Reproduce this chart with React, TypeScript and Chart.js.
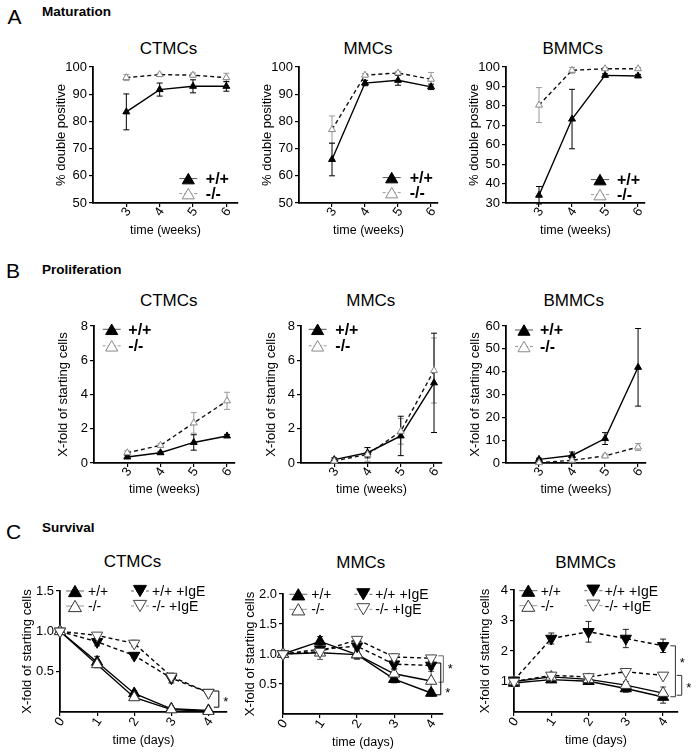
import React, { useEffect, useRef } from 'react';
import { Chart, registerables } from 'chart.js';

Chart.register(...registerables);

const FONT = '"Liberation Sans", Arial, Helvetica, sans-serif';
Chart.defaults.font.family = FONT;

// ---------- categories / ticks ----------
const weeks = [3, 4, 5, 6];
const days = [0, 1, 2, 3, 4];
const yTicksMat = [50, 60, 70, 80, 90, 100];
const yTicksMatBmmc = [30, 40, 50, 60, 70, 80, 90, 100];
const yTicksPro = [0, 1, 2, 3, 4, 5, 6, 7, 8];
const yTicksProBmmc = [0, 10, 20, 30, 40, 50, 60];
const yTicksSurCtmc = [0.5, 1.0, 1.5];
const yTicksSurMmc = [0.5, 1.0, 1.5, 2.0];
const yTicksSurBmmc = [1, 2, 3, 4];

const LBL_WT = '+/+';
const LBL_KO = '-/-';
const LBL_WT_IGE = '+/+ +IgE';
const LBL_KO_IGE = '-/- +IgE';

// ---------- A: Maturation (% double positive) ----------
const matCtmcWT = [83.5, 91.7, 92.9, 92.9];
const matCtmcWTErr = [6.6, 2.4, 2.4, 1.8];
const matCtmcKO = [96.1, 97.2, 97.0, 96.1];
const matCtmcKOErr = [1.1, 0.5, 0.8, 1.6];
const matMmcWT = [66, 94.1, 95.1, 92.7];
const matMmcWTErr = [6, 1, 1.8, 1];
const matMmcKO = [77, 97, 97.8, 95.5];
const matMmcKOErr = [5, 0.6, 0.6, 2.5];
const matBmmcWT = [34, 73.2, 95.7, 95.4];
const matBmmcWTErr = [4.5, 15.3, 0.8, 0.8];
const matBmmcKO = [80.4, 98.3, 99.1, 99.1];
const matBmmcKOErr = [9, 1.5, 0.6, 0.6];

// ---------- B: Proliferation (x-fold) ----------
const proCtmcWT = [0.35, 0.6, 1.2, 1.58];
const proCtmcWTErr = [0.08, 0.08, 0.45, 0.08];
const proCtmcKO = [0.6, 1.03, 2.34, 3.63];
const proCtmcKOErr = [0.1, 0.1, 0.6, 0.5];
const proMmcWT = [0.2, 0.6, 1.58, 4.68];
const proMmcWTErr = [0.1, 0.3, 1.15, 2.9];
const proMmcKO = [0.12, 0.5, 1.85, 5.4];
const proMmcKOErr = [0.05, 0.4, 0.75, 1.9];
const proBmmcWT = [1.6, 3.3, 10.7, 41.9];
const proBmmcWTErr = [0.5, 1.5, 2.6, 17];
const proBmmcKO = [0.15, 1.2, 3.1, 7.0];
const proBmmcKOErr = [0.2, 0.5, 0.8, 1.5];

// ---------- C: Survival (x-fold) ----------
const surCtmcWT = [1.0, 0.62, 0.23, 0.04, 0.02];
const surCtmcWTErr = [0.03, 0.07, 0.03, 0.01, 0.01];
const surCtmcKO = [1.0, 0.59, 0.18, 0.03, 0.01];
const surCtmcKOErr = [0.03, 0.04, 0.03, 0.01, 0.01];
const surCtmcWTIgE = [1.0, 0.87, 0.7, 0.42, 0.24];
const surCtmcWTIgEErr = [0.02, 0.05, 0.03, 0.06, 0.02];
const surCtmcKOIgE = [1.0, 0.95, 0.85, 0.44, 0.24];
const surCtmcKOIgEErr = [0.02, 0.03, 0.04, 0.04, 0.02];

const surMmcWT = [1.0, 1.21, 0.99, 0.58, 0.35];
const surMmcWTErr = [0.03, 0.08, 0.06, 0.06, 0.05];
const surMmcKO = [1.0, 1.02, 0.99, 0.67, 0.55];
const surMmcKOErr = [0.03, 0.11, 0.08, 0.08, 0.16];
const surMmcWTIgE = [1.0, 1.08, 1.13, 0.83, 0.81];
const surMmcWTIgEErr = [0.03, 0.1, 0.1, 0.08, 0.06];
const surMmcKOIgE = [1.0, 1.04, 1.24, 0.95, 0.93];
const surMmcKOIgEErr = [0.03, 0.06, 0.05, 0.05, 0.04];

const surBmmcWT = [0.95, 1.06, 1.01, 0.77, 0.49];
const surBmmcWTErr = [0.1, 0.08, 0.08, 0.12, 0.2];
const surBmmcKO = [1.0, 1.15, 1.07, 0.88, 0.62];
const surBmmcKOErr = [0.05, 0.08, 0.08, 0.12, 0.2];
const surBmmcWTIgE = [1.04, 2.41, 2.63, 2.41, 2.17];
const surBmmcWTIgEErr = [0.08, 0.18, 0.34, 0.3, 0.22];
const surBmmcKOIgE = [1.0, 1.2, 1.15, 1.32, 1.2];
const surBmmcKOIgEErr = [0.05, 0.06, 0.06, 0.05, 0.05];

// ---------- styles ----------
type Kind = 'wt' | 'ko' | 'wtIgE' | 'koIgE';
type Group = 'A' | 'B' | 'C';

const STYLE_AB: Record<string, any> = {
  wt: { line: '#000', dash: [], fill: '#000', stroke: '#000', err: '#000', down: false, legLine: '#555', legDash: [] },
  ko: { line: '#111', dash: [4, 3], fill: '#fff', stroke: '#888', err: '#999', down: false, legLine: '#999', legDash: [3, 2] },
};
const STYLE_C: Record<string, any> = {
  wt: { line: '#000', dash: [], fill: '#000', stroke: '#000', err: '#222', down: false, legLine: '#666', legDash: [] },
  ko: { line: '#000', dash: [], fill: '#fff', stroke: '#333', err: '#555', down: false, legLine: '#999', legDash: [] },
  wtIgE: { line: '#000', dash: [4, 3], fill: '#000', stroke: '#000', err: '#222', down: true, legLine: '#666', legDash: [3, 2] },
  koIgE: { line: '#000', dash: [4, 3], fill: '#fff', stroke: '#444', err: '#555', down: true, legLine: '#999', legDash: [3, 2] },
};

type Series = { kind: Kind; label: string; values: number[]; errors: number[] };
type Bracket = { x: number; y1: number; y2: number; color: string; starY: number };
type Panel = {
  id: string; group: Group;
  L: number; T: number; R: number; B: number; wy: number;
  xs: number[]; xMin: number; xMax: number; xTicks: number[];
  yMin: number; yMax: number; yTicks: number[]; yDec: number;
  xTitle: string; yTitle: string;
  series: Series[];
  leg: { x: number; y: number; tx: number };
  brackets?: Bracket[];
};

const panels: Panel[] = [
  {
    id: 'aC', group: 'A', L: 93, T: 67, R: 238, B: 203, wy: 39,
    xs: weeks, xMin: 2, xMax: 6.35, xTicks: weeks, yMin: 50, yMax: 100, yTicks: yTicksMat, yDec: 0,
    xTitle: 'time (weeks)', yTitle: '% double positive',
    series: [
      { kind: 'ko', label: LBL_KO, values: matCtmcKO, errors: matCtmcKOErr },
      { kind: 'wt', label: LBL_WT, values: matCtmcWT, errors: matCtmcWTErr },
    ],
    leg: { x: 95.3, y: 111.6, tx: 17.5 },
  },
  {
    id: 'aM', group: 'A', L: 299, T: 67, R: 438, B: 203, wy: 39,
    xs: weeks, xMin: 2, xMax: 6.21, xTicks: weeks, yMin: 50, yMax: 100, yTicks: yTicksMat, yDec: 0,
    xTitle: 'time (weeks)', yTitle: '% double positive',
    series: [
      { kind: 'ko', label: LBL_KO, values: matMmcKO, errors: matMmcKOErr },
      { kind: 'wt', label: LBL_WT, values: matMmcWT, errors: matMmcWTErr },
    ],
    leg: { x: 92.7, y: 110.6, tx: 18 },
  },
  {
    id: 'aB', group: 'A', L: 506, T: 67, R: 645, B: 203, wy: 39,
    xs: weeks, xMin: 2, xMax: 6.21, xTicks: weeks, yMin: 30, yMax: 100, yTicks: yTicksMatBmmc, yDec: 0,
    xTitle: 'time (weeks)', yTitle: '% double positive',
    series: [
      { kind: 'ko', label: LBL_KO, values: matBmmcKO, errors: matBmmcKOErr },
      { kind: 'wt', label: LBL_WT, values: matBmmcWT, errors: matBmmcWTErr },
    ],
    leg: { x: 94, y: 112.6, tx: 17 },
  },
  {
    id: 'bC', group: 'B', L: 94, T: 326, R: 235, B: 463, wy: 38,
    xs: weeks, xMin: 2, xMax: 6.24, xTicks: weeks, yMin: 0, yMax: 8, yTicks: yTicksPro, yDec: 0,
    xTitle: 'time (weeks)', yTitle: 'X-fold of starting cells',
    series: [
      { kind: 'ko', label: LBL_KO, values: proCtmcKO, errors: proCtmcKOErr },
      { kind: 'wt', label: LBL_WT, values: proCtmcWT, errors: proCtmcWTErr },
    ],
    leg: { x: 17.7, y: 3.3, tx: 16.6 },
  },
  {
    id: 'bM', group: 'B', L: 301, T: 326, R: 442, B: 463, wy: 37,
    xs: weeks, xMin: 2, xMax: 6.24, xTicks: weeks, yMin: 0, yMax: 8, yTicks: yTicksPro, yDec: 0,
    xTitle: 'time (weeks)', yTitle: 'X-fold of starting cells',
    series: [
      { kind: 'ko', label: LBL_KO, values: proMmcKO, errors: proMmcKOErr },
      { kind: 'wt', label: LBL_WT, values: proMmcWT, errors: proMmcWTErr },
    ],
    leg: { x: 16.6, y: 3.3, tx: 17.7 },
  },
  {
    id: 'bB', group: 'B', L: 506, T: 326, R: 646, B: 463, wy: 38,
    xs: weeks, xMin: 2, xMax: 6.24, xTicks: weeks, yMin: 0, yMax: 60, yTicks: yTicksProBmmc, yDec: 0,
    xTitle: 'time (weeks)', yTitle: 'X-fold of starting cells',
    series: [
      { kind: 'ko', label: LBL_KO, values: proBmmcKO, errors: proBmmcKOErr },
      { kind: 'wt', label: LBL_WT, values: proBmmcWT, errors: proBmmcWTErr },
    ],
    leg: { x: 18, y: 4, tx: 16 },
  },
  {
    id: 'cC', group: 'C', L: 60, T: 591, R: 227, B: 712, wy: 40,
    xs: days, xMin: 0, xMax: 4.5, xTicks: days, yMin: 0, yMax: 1.5, yTicks: yTicksSurCtmc, yDec: 1,
    xTitle: 'time (days)', yTitle: 'X-fold of starting cells',
    series: [
      { kind: 'koIgE', label: LBL_KO_IGE, values: surCtmcKOIgE, errors: surCtmcKOIgEErr },
      { kind: 'wtIgE', label: LBL_WT_IGE, values: surCtmcWTIgE, errors: surCtmcWTIgEErr },
      { kind: 'ko', label: LBL_KO, values: surCtmcKO, errors: surCtmcKOErr },
      { kind: 'wt', label: LBL_WT, values: surCtmcWT, errors: surCtmcWTErr },
    ],
    leg: { x: 15, y: 0, tx: 13 },
    brackets: [{ x: 4.28, y1: 0.26, y2: 0.06, color: '#000', starY: 0.16 }],
  },
  {
    id: 'cM', group: 'C', L: 283, T: 594, R: 443, B: 714, wy: 40,
    xs: days, xMin: 0, xMax: 4.32, xTicks: days, yMin: 0, yMax: 2, yTicks: yTicksSurMmc, yDec: 1,
    xTitle: 'time (days)', yTitle: 'X-fold of starting cells',
    series: [
      { kind: 'koIgE', label: LBL_KO_IGE, values: surMmcKOIgE, errors: surMmcKOIgEErr },
      { kind: 'wtIgE', label: LBL_WT_IGE, values: surMmcWTIgE, errors: surMmcWTIgEErr },
      { kind: 'ko', label: LBL_KO, values: surMmcKO, errors: surMmcKOErr },
      { kind: 'wt', label: LBL_WT, values: surMmcWT, errors: surMmcWTErr },
    ],
    leg: { x: 15.3, y: 0.3, tx: 13 },
    brackets: [
      { x: 4.33, y1: 0.97, y2: 0.53, color: '#666', starY: 0.8 },
      { x: 4.26, y1: 0.85, y2: 0.32, color: '#000', starY: 0.4 },
    ],
  },
  {
    id: 'cB', group: 'C', L: 514, T: 590, R: 678, B: 712, wy: 36,
    xs: days, xMin: 0, xMax: 4.4, xTicks: days, yMin: 0, yMax: 4, yTicks: yTicksSurBmmc, yDec: 0,
    xTitle: 'time (days)', yTitle: 'X-fold of starting cells',
    series: [
      { kind: 'koIgE', label: LBL_KO_IGE, values: surBmmcKOIgE, errors: surBmmcKOIgEErr },
      { kind: 'wtIgE', label: LBL_WT_IGE, values: surBmmcWTIgE, errors: surBmmcWTIgEErr },
      { kind: 'ko', label: LBL_KO, values: surBmmcKO, errors: surBmmcKOErr },
      { kind: 'wt', label: LBL_WT, values: surBmmcWT, errors: surBmmcWTErr },
    ],
    leg: { x: 14.3, y: 0.7, tx: 12.5 },
    brackets: [
      { x: 4.33, y1: 2.17, y2: 0.5, color: '#333', starY: 1.68 },
      { x: 4.5, y1: 1.2, y2: 0.55, color: '#333', starY: 0.88 },
    ],
  },
];

// ---------- plugins ----------
function drawTri(ctx: CanvasRenderingContext2D, x: number, y: number, r: number, down: boolean, fill: string, stroke: string) {
  let rad = down ? Math.PI : 0;
  ctx.beginPath();
  for (let k = 0; k < 3; k++) {
    const px = x + Math.sin(rad) * r;
    const py = y - Math.cos(rad) * r;
    if (k === 0) ctx.moveTo(px, py); else ctx.lineTo(px, py);
    rad += (2 * Math.PI) / 3;
  }
  ctx.closePath();
  ctx.fillStyle = fill;
  ctx.fill();
  ctx.lineWidth = 1;
  ctx.strokeStyle = stroke;
  ctx.stroke();
}

const errorBarPlugin = {
  id: 'errbars',
  beforeDatasetsDraw(chart: any) {
    const ctx = chart.ctx;
    const xs = chart.scales.x;
    const ys = chart.scales.y;
    const cap = 3;
    chart.data.datasets.forEach((ds: any) => {
      if (!ds.errors) return;
      ctx.save();
      ctx.strokeStyle = ds.errColor;
      ctx.lineWidth = 1;
      ds.data.forEach((p: any, i: number) => {
        const e = ds.errors[i];
        if (!e) return;
        const x = xs.getPixelForValue(p.x);
        const y1 = ys.getPixelForValue(p.y + e);
        const y2 = ys.getPixelForValue(p.y - e);
        ctx.beginPath();
        ctx.moveTo(x, y1); ctx.lineTo(x, y2);
        ctx.moveTo(x - cap, y1); ctx.lineTo(x + cap, y1);
        ctx.moveTo(x - cap, y2); ctx.lineTo(x + cap, y2);
        ctx.stroke();
      });
      ctx.restore();
    });
  },
};

const xLabelPlugin = {
  id: 'xlabels',
  afterDraw(chart: any, _args: any, opts: any) {
    const ctx = chart.ctx;
    const s = chart.scales.x;
    ctx.save();
    ctx.font = `${opts.size}px ${FONT}`;
    ctx.fillStyle = '#000';
    ctx.textAlign = 'center';
    ctx.textBaseline = 'middle';
    s.ticks.forEach((t: any) => {
      const x = s.getPixelForValue(t.value);
      ctx.save();
      ctx.translate(x, s.top + opts.dy);
      ctx.rotate((-opts.angle * Math.PI) / 180);
      ctx.fillText(String(t.value), 0, 0);
      ctx.restore();
    });
    ctx.restore();
  },
};

const legendPlugin = {
  id: 'figlegend',
  afterDraw(chart: any, _args: any, opts: any) {
    const ctx = chart.ctx;
    const a = chart.chartArea;
    ctx.save();
    (opts.entries || []).forEach((e: any) => {
      const st = opts.styles[e.kind];
      const x = a.left + e.x;
      const y = a.top + e.y;
      ctx.beginPath();
      ctx.setLineDash(st.legDash);
      ctx.strokeStyle = st.legLine;
      ctx.lineWidth = 1;
      ctx.moveTo(x - 9, y);
      ctx.lineTo(x + 9, y);
      ctx.stroke();
      ctx.setLineDash([]);
      drawTri(ctx, x, y + (st.down ? -opts.r * 0.25 : opts.r * 0.25), opts.r, st.down, st.fill, st.stroke);
      ctx.font = `${opts.bold ? 'bold ' : ''}${opts.size}px ${FONT}`;
      ctx.fillStyle = '#000';
      ctx.textAlign = 'left';
      ctx.textBaseline = 'middle';
      ctx.fillText(e.label, x + e.tx, y + 1);
    });
    ctx.restore();
  },
};

const bracketPlugin = {
  id: 'brackets',
  afterDraw(chart: any, _args: any, opts: any) {
    const list = opts.list || [];
    if (!list.length) return;
    const ctx = chart.ctx;
    const xs = chart.scales.x;
    const ys = chart.scales.y;
    ctx.save();
    list.forEach((b: Bracket) => {
      const x = xs.getPixelForValue(b.x);
      const y1 = ys.getPixelForValue(b.y1);
      const y2 = ys.getPixelForValue(b.y2);
      ctx.strokeStyle = b.color;
      ctx.lineWidth = 1;
      ctx.beginPath();
      ctx.moveTo(x - 5, y1); ctx.lineTo(x, y1); ctx.lineTo(x, y2); ctx.lineTo(x - 5, y2);
      ctx.stroke();
      ctx.font = `13px ${FONT}`;
      ctx.fillStyle = '#000';
      ctx.textAlign = 'center';
      ctx.textBaseline = 'middle';
      ctx.fillText('*', x + 7, ys.getPixelForValue(b.starY) + 3);
    });
    ctx.restore();
  },
};

// ---------- geometry ----------
const PT = 12;
const HX: Record<Group, number> = { A: 35, B: 34, C: 36 };

function geom(p: Panel) {
  const pr = Math.min(28, 697 - p.R);
  return {
    left: p.L - p.wy,
    top: p.T - PT,
    w: p.R - p.L + p.wy + pr,
    h: p.B - p.T + PT + HX[p.group],
    pr,
  };
}

function buildConfig(p: Panel, g: ReturnType<typeof geom>): any {
  const styles = p.group === 'C' ? STYLE_C : STYLE_AB;
  const r = p.group === 'C' ? 6.5 : 4;
  const datasets = p.series.map((s) => {
    const st = styles[s.kind];
    return {
      label: s.label,
      data: p.xs.map((x, i) => ({ x, y: s.values[i] })),
      errors: s.errors,
      errColor: st.err,
      borderColor: st.line,
      borderWidth: 1.4,
      borderDash: st.dash,
      pointStyle: 'triangle',
      pointRotation: st.down ? 180 : 0,
      pointRadius: r,
      pointBackgroundColor: st.fill,
      pointBorderColor: st.stroke,
      pointBorderWidth: 1,
      tension: 0,
      clip: false,
      fill: false,
    };
  });

  const legOrder: Kind[] = p.group === 'C' ? ['wt', 'ko', 'wtIgE', 'koIgE'] : ['wt', 'ko'];
  const rowGap = p.group === 'C' ? 15 : p.group === 'A' ? 15 : 16.5;
  const entries = legOrder.map((k, i) => {
    const s = p.series.find((q) => q.kind === k)!;
    const col = i >= 2 ? 1 : 0;
    const row = i % 2;
    return {
      kind: k,
      label: s.label,
      x: p.leg.x + col * 65,
      y: p.leg.y + row * rowGap,
      tx: col ? p.leg.tx - 1 : p.leg.tx,
    };
  });

  const gridOpts = { display: true, drawOnChartArea: false, drawTicks: true, tickLength: 4, color: '#000', lineWidth: 1.2 };
  const borderOpts = { display: true, color: '#000', width: 1.8 };

  return {
    type: 'line',
    data: { datasets },
    options: {
      responsive: false,
      maintainAspectRatio: false,
      animation: false,
      events: [],
      layout: { padding: { top: PT, right: g.pr, left: 0, bottom: 0 } },
      plugins: {
        legend: { display: false },
        tooltip: { enabled: false },
        title: { display: false },
        xlabels: { size: 13, dy: p.group === 'C' ? 10 : 9, angle: 55 },
        figlegend: {
          entries,
          styles,
          r: p.group === 'C' ? 7.5 : 7,
          size: p.group === 'C' ? 14 : 16,
          bold: p.group !== 'C',
        },
        brackets: { list: p.brackets || [] },
      },
      scales: {
        x: {
          type: 'linear',
          position: 'bottom',
          min: p.xMin,
          max: p.xMax,
          afterBuildTicks: (s: any) => { s.ticks = p.xTicks.map((v) => ({ value: v })); },
          afterFit: (s: any) => { s.height = HX[p.group]; },
          ticks: { display: false },
          grid: gridOpts,
          border: borderOpts,
          title: { display: true, text: p.xTitle, color: '#000', padding: 0, font: { size: 12.5, family: FONT } },
        },
        y: {
          type: 'linear',
          position: 'left',
          min: p.yMin,
          max: p.yMax,
          afterBuildTicks: (s: any) => { s.ticks = p.yTicks.map((v) => ({ value: v })); },
          afterFit: (s: any) => { s.width = p.wy; },
          ticks: {
            color: '#000',
            padding: 2,
            font: { size: 13, family: FONT },
            callback: (v: any) => Number(v).toFixed(p.yDec),
          },
          grid: gridOpts,
          border: borderOpts,
          title: { display: true, text: p.yTitle, color: '#000', padding: 0, font: { size: 13, family: FONT } },
        },
      },
    },
    plugins: [errorBarPlugin, xLabelPlugin, legendPlugin, bracketPlugin],
  };
}

function ChartPanel({ p }: { p: Panel }) {
  const ref = useRef<HTMLCanvasElement>(null);
  const g = geom(p);
  useEffect(() => {
    if (!ref.current) return;
    const chart = new Chart(ref.current, buildConfig(p, g));
    return () => chart.destroy();
  }, []);
  return (
    <canvas
      ref={ref}
      width={g.w}
      height={g.h}
      style={{ position: 'absolute', left: g.left, top: g.top, width: g.w, height: g.h, display: 'block' }}
    />
  );
}

type Txt = { t: string; x: number; y: number; size: number; bold?: boolean; anchor: 'center' | 'left' };
const texts: Txt[] = [
  { t: 'A', x: 14.5, y: 15.5, size: 21, anchor: 'center' },
  { t: 'Maturation', x: 42, y: 12, size: 13.5, bold: true, anchor: 'left' },
  { t: 'B', x: 13, y: 270, size: 21, anchor: 'center' },
  { t: 'Proliferation', x: 42, y: 270, size: 13.5, bold: true, anchor: 'left' },
  { t: 'C', x: 13.7, y: 531, size: 21, anchor: 'center' },
  { t: 'Survival', x: 42, y: 528.3, size: 13.5, bold: true, anchor: 'left' },
  { t: 'CTMCs', x: 168.5, y: 48.3, size: 17, anchor: 'center' },
  { t: 'MMCs', x: 368, y: 48.3, size: 17, anchor: 'center' },
  { t: 'BMMCs', x: 572.7, y: 48.3, size: 17, anchor: 'center' },
  { t: 'CTMCs', x: 168.7, y: 300, size: 17, anchor: 'center' },
  { t: 'MMCs', x: 370.8, y: 300, size: 17, anchor: 'center' },
  { t: 'BMMCs', x: 573.7, y: 300, size: 17, anchor: 'center' },
  { t: 'CTMCs', x: 132.5, y: 561, size: 17, anchor: 'center' },
  { t: 'MMCs', x: 360.8, y: 562, size: 17, anchor: 'center' },
  { t: 'BMMCs', x: 585.5, y: 562, size: 17, anchor: 'center' },
];

export default function App() {
  return (
    <div
      style={{
        position: 'absolute', left: 0, top: 0, width: 697, height: 755,
        background: '#fff', overflow: 'hidden', fontFamily: FONT, color: '#000',
      }}
    >
      {texts.map((t, i) => (
        <div
          key={i}
          style={{
            position: 'absolute',
            left: t.x,
            top: t.y,
            fontSize: t.size,
            fontWeight: t.bold ? 'bold' : 'normal',
            lineHeight: 1,
            whiteSpace: 'nowrap',
            transform: t.anchor === 'center' ? 'translate(-50%, -50%)' : 'translate(0, -50%)',
          }}
        >
          {t.t}
        </div>
      ))}
      {panels.map((p) => (
        <ChartPanel key={p.id} p={p} />
      ))}
    </div>
  );
}
